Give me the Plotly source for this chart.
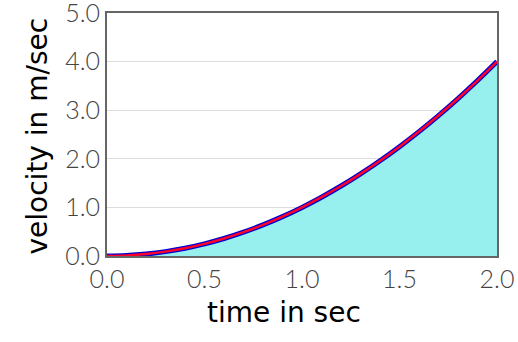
import plotly.graph_objects as go

time_sec = [0.0, 0.1, 0.2, 0.3, 0.4, 0.5, 0.6, 0.7, 0.8, 0.9, 1.0,
            1.1, 1.2, 1.3, 1.4, 1.5, 1.6, 1.7, 1.8, 1.9, 2.0]
velocity = [0.0, 0.01, 0.04, 0.09, 0.16, 0.25, 0.36, 0.49, 0.64, 0.81, 1.0,
            1.21, 1.44, 1.69, 1.96, 2.25, 2.56, 2.89, 3.24, 3.61, 4.0]
x_ticks = [0.0, 0.5, 1.0, 1.5, 2.0]
y_ticks = [0.0, 1.0, 2.0, 3.0, 4.0, 5.0]

fig = go.Figure()
fig.add_trace(go.Scatter(x=time_sec, y=velocity, mode="lines", fill="tozeroy",
                         fillcolor="rgb(152,240,238)",
                         line=dict(color="rgb(0,0,210)", width=5, shape="spline"),
                         showlegend=False))
fig.add_trace(go.Scatter(x=time_sec, y=velocity, mode="lines",
                         line=dict(color="rgb(255,0,40)", width=2.5, shape="spline"),
                         showlegend=False))

tick_font = dict(family="Lato", size=25, color="#444", weight=300)
title_font = dict(family="DejaVu Sans", size=28, color="black")
fig.update_layout(
    width=518, height=342,
    margin=dict(l=107, r=21, t=13, b=86),
    plot_bgcolor="white", paper_bgcolor="white",
    xaxis=dict(range=[0, 2], tickvals=x_ticks, ticktext=[f"{v:.1f}" for v in x_ticks],
               showgrid=False, zeroline=False, showline=True, mirror=True,
               linecolor="#666", linewidth=2, tickfont=tick_font, automargin=False,
               ticklabeloverflow="allow", ticks="", ticklen=0),
    yaxis=dict(range=[0, 5], tickvals=y_ticks, ticktext=[f"{v:.1f}" for v in y_ticks],
               showgrid=True, gridcolor="#ddd", gridwidth=1, zeroline=False,
               showline=True, mirror=True, linecolor="#666", linewidth=2,
               tickfont=tick_font, automargin=False, ticklabeloverflow="allow"),
    annotations=[
        dict(text="time in sec", x=0.5, y=0, xref="paper", yref="paper", showarrow=False,
             font=title_font, xanchor="center", yanchor="middle", xshift=-18, yshift=-56),
        dict(text="velocity in m/sec", x=0, y=0.5, xref="paper", yref="paper", showarrow=False,
             font=title_font, textangle=-90, xanchor="center", yanchor="middle",
             xshift=-70, yshift=-2),
    ],
)
fig.write_html("out.html")
